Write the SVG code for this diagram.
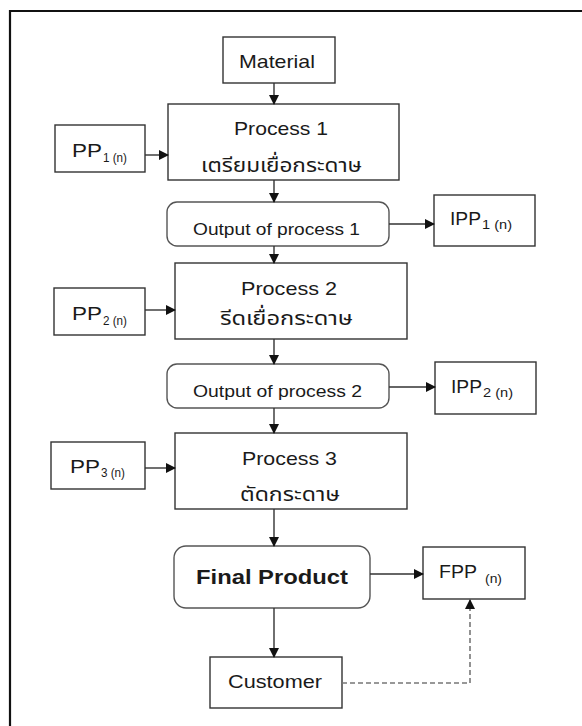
<svg xmlns="http://www.w3.org/2000/svg" width="582" height="726" viewBox="0 0 582 726">
<defs>
<style>
.box{fill:#fff;stroke:#333;stroke-width:1.4}
.rbox{fill:#fff;stroke:#555;stroke-width:1.4}
.t{font-family:"Liberation Sans",Arial,sans-serif;fill:#1a1a1a}
.th{font-family:"Noto Sans Thai","Noto Sans","DejaVu Sans",sans-serif;fill:#1a1a1a;font-size:20px}
.sub{font-size:12px}
.ln{fill:none;stroke:#333;stroke-width:1.4}
.dash{fill:none;stroke:#777;stroke-width:1.6;stroke-dasharray:5 3}
</style>
<marker id="ah" markerUnits="userSpaceOnUse" markerWidth="10" markerHeight="10" refX="9" refY="5" orient="auto" viewBox="0 0 10 10">
<path d="M0,0 L10,5 L0,10 z" fill="#111"/>
</marker>
</defs>
<rect width="582" height="726" fill="#fff"/>
<path d="M10,726 V11 H582" fill="none" stroke="#111" stroke-width="2.2"/>

<g id="material"><rect class="box" x="223" y="37" width="112" height="46"/>
<text class="t" x="239" y="68" font-size="19" textLength="76" lengthAdjust="spacingAndGlyphs">Material</text></g>

<g id="process1"><rect class="box" x="168" y="104" width="231" height="76"/>
<text class="t" x="234" y="135" font-size="19" textLength="94" lengthAdjust="spacingAndGlyphs">Process 1</text>
<text class="th" x="201" y="172" textLength="161" lengthAdjust="spacingAndGlyphs">เตรียมเยื่อกระดาษ</text></g>

<g id="pp1"><rect class="box" x="55" y="125" width="90" height="47"/>
<text class="t" x="72" y="157" font-size="19" textLength="30" lengthAdjust="spacingAndGlyphs">PP</text>
<text class="t sub" x="103" y="162" textLength="24" lengthAdjust="spacingAndGlyphs">1 (n)</text></g>

<g id="out1"><rect class="rbox" x="167" y="202" width="222" height="44" rx="10"/>
<text class="t" x="193" y="235" font-size="16.5" textLength="167" lengthAdjust="spacingAndGlyphs">Output of process 1</text></g>

<g id="ipp1"><rect class="box" x="434" y="195" width="101" height="51"/>
<text class="t" x="450" y="225" font-size="19" textLength="31" lengthAdjust="spacingAndGlyphs">IPP</text>
<text class="t sub" x="482" y="229" textLength="30" lengthAdjust="spacingAndGlyphs">1 (n)</text></g>

<g id="process2"><rect class="box" x="175" y="263" width="232" height="76"/>
<text class="t" x="241" y="295" font-size="19" textLength="96" lengthAdjust="spacingAndGlyphs">Process 2</text>
<text class="th" x="220" y="325" textLength="133" lengthAdjust="spacingAndGlyphs">รีดเยื่อกระดาษ</text></g>

<g id="pp2"><rect class="box" x="54" y="288" width="91" height="47"/>
<text class="t" x="72" y="320" font-size="19" textLength="30" lengthAdjust="spacingAndGlyphs">PP</text>
<text class="t sub" x="103" y="325" textLength="24" lengthAdjust="spacingAndGlyphs">2 (n)</text></g>

<g id="out2"><rect class="rbox" x="167" y="364" width="222" height="44" rx="10"/>
<text class="t" x="193" y="397" font-size="16.5" textLength="169" lengthAdjust="spacingAndGlyphs">Output of process 2</text></g>

<g id="ipp2"><rect class="box" x="435" y="362" width="101" height="52"/>
<text class="t" x="451" y="393" font-size="19" textLength="31" lengthAdjust="spacingAndGlyphs">IPP</text>
<text class="t sub" x="483" y="397" textLength="30" lengthAdjust="spacingAndGlyphs">2 (n)</text></g>

<g id="process3"><rect class="box" x="175" y="433" width="232" height="76"/>
<text class="t" x="242" y="465" font-size="19" textLength="95" lengthAdjust="spacingAndGlyphs">Process 3</text>
<text class="th" x="240" y="501" textLength="100" lengthAdjust="spacingAndGlyphs">ตัดกระดาษ</text></g>

<g id="pp3"><rect class="box" x="51" y="442" width="94" height="47"/>
<text class="t" x="70" y="473" font-size="19" textLength="30" lengthAdjust="spacingAndGlyphs">PP</text>
<text class="t sub" x="101" y="477" textLength="24" lengthAdjust="spacingAndGlyphs">3 (n)</text></g>

<g id="final"><rect class="rbox" x="174" y="546" width="196" height="62" rx="12"/>
<text class="t" x="196" y="584" font-size="19.5" font-weight="bold" textLength="152" lengthAdjust="spacingAndGlyphs">Final Product</text></g>

<g id="fpp"><rect class="box" x="423" y="547" width="102" height="52"/>
<text class="t" x="439" y="578" font-size="19" textLength="38" lengthAdjust="spacingAndGlyphs">FPP</text>
<text class="t sub" x="485" y="583" textLength="17" lengthAdjust="spacingAndGlyphs">(n)</text></g>

<g id="customer"><rect class="box" x="210" y="657" width="132" height="51"/>
<text class="t" x="228" y="688" font-size="18.5" textLength="94" lengthAdjust="spacingAndGlyphs">Customer</text></g>

<g id="connectors">
<path class="ln" d="M274,83 V104" marker-end="url(#ah)"/>
<path class="ln" d="M145,155 H168" marker-end="url(#ah)"/>
<path class="ln" d="M274,180 V202" marker-end="url(#ah)"/>
<path class="ln" d="M389,224 H434" marker-end="url(#ah)"/>
<path class="ln" d="M274,246 V263" marker-end="url(#ah)"/>
<path class="ln" d="M145,310 H175" marker-end="url(#ah)"/>
<path class="ln" d="M274,339 V364" marker-end="url(#ah)"/>
<path class="ln" d="M389,387 H435" marker-end="url(#ah)"/>
<path class="ln" d="M274,408 V433" marker-end="url(#ah)"/>
<path class="ln" d="M145,468 H175" marker-end="url(#ah)"/>
<path class="ln" d="M274,509 V546" marker-end="url(#ah)"/>
<path class="ln" d="M370,574 H423" marker-end="url(#ah)"/>
<path class="ln" d="M274,608 V657" marker-end="url(#ah)"/>
<path class="dash" d="M342,683 H470 V600" marker-end="url(#ah)"/>
</g>
</svg>
